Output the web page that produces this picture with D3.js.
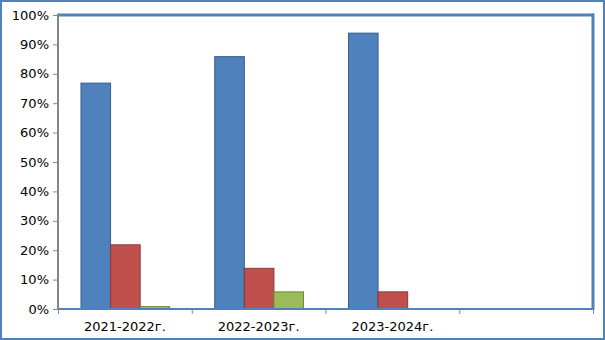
<!DOCTYPE html>
<html>
<head>
<meta charset="utf-8">
<script src="https://cdn.jsdelivr.net/npm/d3@7"></script>
<style>
  body { margin: 0; background: #fff; }
  svg text { font-family: "DejaVu Sans", sans-serif; font-size: 13px; fill: #000; }
</style>
</head>
<body>
<div id="chart"></div>
<script>
// data
var categories = ["2021-2022г.", "2022-2023г.", "2023-2024г.", ""];
var seriesBlue = [0.77, 0.86, 0.94, null];
var seriesRed = [0.22, 0.14, 0.06, null];
var seriesGreen = [0.01, 0.06, 0, null];
var yTicks = [0, 0.1, 0.2, 0.3, 0.4, 0.5, 0.6, 0.7, 0.8, 0.9, 1];

var series = [
    { values: seriesBlue, fill: "#4F81BD", stroke: "#385D8A" },
    { values: seriesRed, fill: "#C0504D", stroke: "#8C3836" },
    { values: seriesGreen, fill: "#9BBB59", stroke: "#71893F" }
];

var W = 605, H = 340;
var margin = { top: 15, right: 12, bottom: 31, left: 58 };
var width = W - margin.left - margin.right,
    height = H - margin.top - margin.bottom;

var svg = d3.select("#chart").append("svg")
    .attr("width", W)
    .attr("height", H);

// outer border
svg.append("rect")
    .attr("x", 1).attr("y", 1)
    .attr("width", W - 2).attr("height", H - 2)
    .attr("fill", "none")
    .attr("stroke", "#4F81BD")
    .attr("stroke-width", 2);

var g = svg.append("g")
    .attr("transform", "translate(" + margin.left + "," + margin.top + ")");

var x0 = d3.scaleBand().domain(d3.range(categories.length)).range([0, width]).paddingInner(0).paddingOuter(0);
var x1 = d3.scaleBand().domain(d3.range(series.length)).range([0, x0.bandwidth()]).paddingOuter(0.76);
var y = d3.scaleLinear().domain([0, 1]).range([height, 0]);

// bars
series.forEach(function(s, si) {
    g.selectAll(".bar-" + si)
        .data(s.values.map(function(v, i) { return { v: v, i: i }; }).filter(function(d) { return d.v !== null; }))
        .enter().append("rect")
        .attr("x", function(d) { return x0(d.i) + x1(si) + 0.5; })
        .attr("y", function(d) { return y(d.v) + 0.5; })
        .attr("width", x1.bandwidth())
        .attr("height", function(d) { return Math.max(0, height - y(d.v)); })
        .attr("fill", s.fill)
        .attr("stroke", s.stroke)
        .attr("stroke-width", 1);
});

// plot frame: top, right, bottom in blue
g.append("line").attr("x1", 0).attr("x2", width + 1).attr("y1", 0).attr("y2", 0)
    .attr("stroke", "#4F81BD").attr("stroke-width", 3);
g.append("line").attr("x1", width).attr("x2", width).attr("y1", -1.5).attr("y2", height + 1)
    .attr("stroke", "#4F81BD").attr("stroke-width", 3);

// y axis
var yAxis = d3.axisLeft(y).tickValues(yTicks).tickSize(5).tickPadding(4)
    .tickFormat(d3.format(".0%"));
var ya = g.append("g").call(yAxis);
ya.select(".domain").remove();
ya.selectAll(".tick line").attr("stroke", "#868686");
ya.selectAll("text").style("font-size", "13px");

// x axis
var xAxis = d3.axisBottom(d3.scaleLinear().domain([0, categories.length]).range([0, width]))
    .tickValues(d3.range(categories.length + 1)).tickSize(5).tickFormat("");
var xa = g.append("g").attr("transform", "translate(0," + height + ")").call(xAxis);
xa.select(".domain").remove();
xa.selectAll(".tick line").attr("stroke", "#868686");

g.append("line").attr("x1", 0).attr("x2", width).attr("y1", height).attr("y2", height)
    .attr("stroke", "#4F81BD").attr("stroke-width", 2);

g.selectAll(".cat-label")
    .data(categories)
    .enter().append("text")
    .attr("x", function(d, i) { return x0(i) + x0.bandwidth() / 2; })
    .attr("y", height + 22)
    .attr("text-anchor", "middle")
    .text(function(d) { return d; });

// left axis line
g.append("line").attr("x1", 0).attr("x2", 0).attr("y1", -1.5).attr("y2", height + 1)
    .attr("stroke", "#868686").attr("stroke-width", 2);
</script>
</body>
</html>
